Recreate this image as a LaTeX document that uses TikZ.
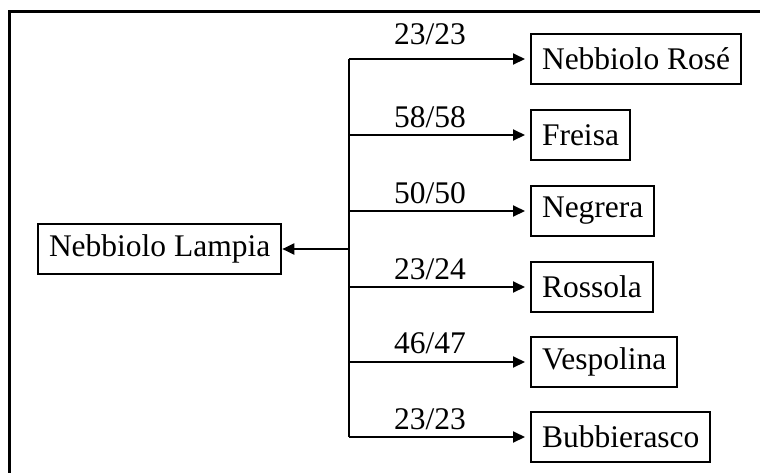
\documentclass[tikz,border=0pt]{standalone}
\usepackage{fontspec}
\setmainfont{Liberation Serif}
\usetikzlibrary{arrows.meta}
\begin{document}
\begin{tikzpicture}[x=1pt,y=-1pt,
  every node/.style={font=\fontsize{31.5}{36}\selectfont},
  varbox/.style={draw,line width=2pt,inner xsep=11pt,inner ysep=0pt,minimum height=50pt,anchor=west},
  conn/.style={line width=2pt},
  arr/.style={conn,-{Triangle[length=12pt,width=11pt]}},
  lbl/.style={anchor=base,inner sep=0pt}]
\useasboundingbox (0,0) rectangle (760,472);
\draw[line width=3pt] (9,474) -- (9,11) -- (762,11);
% nodes
\node[varbox] (lampia) at (37,249) {Nebbiolo Lampia};
\node[varbox] (rose) at (530,59) {Nebbiolo Rosé};
\node[varbox] (freisa) at (530,135) {Freisa};
\node[varbox] (negrera) at (530,211) {Negrera};
\node[varbox] (rossola) at (530,287) {Rossola};
\node[varbox] (vespolina) at (530,362) {Vespolina};
\node[varbox] (bubb) at (530,437) {Bubbierasco};
% trunk coordinates
\coordinate (t1) at (349,59);
\coordinate (t2) at (349,135);
\coordinate (t3) at (349,211);
\coordinate (tj) at (349,249);
\coordinate (t4) at (349,287);
\coordinate (t5) at (349,362);
\coordinate (t6) at (349,437);
\draw[conn] (t1) -- (t6);
\draw[arr] (tj) -- (lampia.east);
\draw[arr,shorten >=5pt] (t1) -- (rose.west);
\draw[arr,shorten >=5pt] (t2) -- (freisa.west);
\draw[arr,shorten >=5pt] (t3) -- (negrera.west);
\draw[arr,shorten >=5pt] (t4) -- (rossola.west);
\draw[arr,shorten >=5pt] (t5) -- (vespolina.west);
\draw[arr,shorten >=5pt] (t6) -- (bubb.west);
% labels
\node[lbl] (l1) at (430,44) {23/23};
\node[lbl] (l2) at (430,127) {58/58};
\node[lbl] (l3) at (430,203) {50/50};
\node[lbl] (l4) at (430,279) {23/24};
\node[lbl] (l5) at (430,353) {46/47};
\node[lbl] (l6) at (430,429) {23/23};
\end{tikzpicture}
\end{document}
